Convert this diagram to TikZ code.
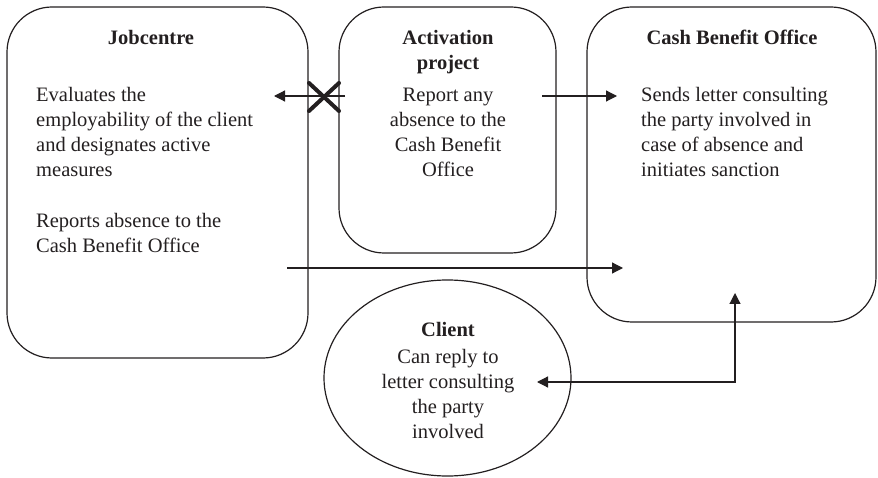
\documentclass[tikz,border=0pt]{standalone}
\usepackage{fontspec}
\setmainfont{Liberation Serif}
\usetikzlibrary{arrows.meta,shapes.geometric}
\definecolor{ink}{HTML}{231F20}
\begin{document}
\begin{tikzpicture}[x=1pt,y=-1pt,
  panel/.style={draw=ink, line width=1.2pt, rounded corners=45pt, outer sep=0pt, inner sep=0pt, anchor=north west},
  head/.style={font=\fontsize{20.5}{25}\selectfont\bfseries, text=ink, inner sep=0pt, align=center, anchor=base},
  body/.style={font=\fontsize{20.5}{25}\selectfont, text=ink, inner sep=0pt, align=left, anchor=base west},
  cbody/.style={font=\fontsize{20.5}{25}\selectfont, text=ink, inner sep=0pt, align=center, anchor=base},
  arr/.style={draw=ink, line width=1.2pt, -{Triangle[length=11pt,width=11pt]}},
  darr/.style={draw=ink, line width=1.2pt, {Triangle[length=11pt,width=11pt]}-{Triangle[length=11pt,width=11pt]}},
  xmark/.style={draw=ink, line width=4pt, line cap=round}]
\useasboundingbox (0,0) rectangle (878,478);
% panels
\node[panel, minimum width=301pt, minimum height=351pt] (job) at (7,7) {};
\node[panel, minimum width=217pt, minimum height=246pt] (act) at (339,7) {};
\node[panel, minimum width=289pt, minimum height=315pt] (cbo) at (587,7) {};
\node[draw=ink, line width=1.2pt, ellipse, minimum width=247pt, minimum height=196pt, inner sep=0pt, outer sep=0pt] (client) at (447.5,378) {};
% texts (anchor base = baseline of last line)
\node[head] (jobh) at (151,45) {Jobcentre};
\node[body] (jobb1) at (36,177) {Evaluates the\\employability of the client\\and designates active\\measures};
\node[body] (jobb2) at (36,253) {Reports absence to the\\Cash Benefit Office};
\node[head] (acth) at (448,70) {Activation\\project};
\node[cbody] (actb) at (448,177) {Report any\\absence to the\\Cash Benefit\\Office};
\node[head] (cboh) at (732,45) {Cash Benefit Office};
\node[body] (cbob) at (641,177) {Sends letter consulting\\the party involved in\\case of absence and\\initiates sanction};
\node[head] (clh) at (448,337) {Client};
\node[cbody] (clb) at (448,438) {Can reply to\\letter consulting\\the party\\involved};
% connectors
\coordinate (a1s) at (345,96);
\coordinate (a1e) at (274,96);
\draw[arr] (a1s) -- (a1e);
\coordinate (x1) at (309,83);
\coordinate (x2) at (339,111);
\coordinate (x3) at (309,111);
\coordinate (x4) at (339,83);
\draw[xmark] (x1) -- (x2);
\draw[xmark] (x3) -- (x4);
\coordinate (a2s) at (542,96);
\coordinate (a2e) at (617,96);
\draw[arr] (a2s) -- (a2e);
\coordinate (a3s) at (287,268);
\coordinate (a3e) at (623,268);
\draw[arr] (a3s) -- (a3e);
\coordinate (a4t) at (735,293);
\coordinate (a4l) at (537,382);
\draw[darr] (a4t) |- (a4l);
\end{tikzpicture}
\end{document}
